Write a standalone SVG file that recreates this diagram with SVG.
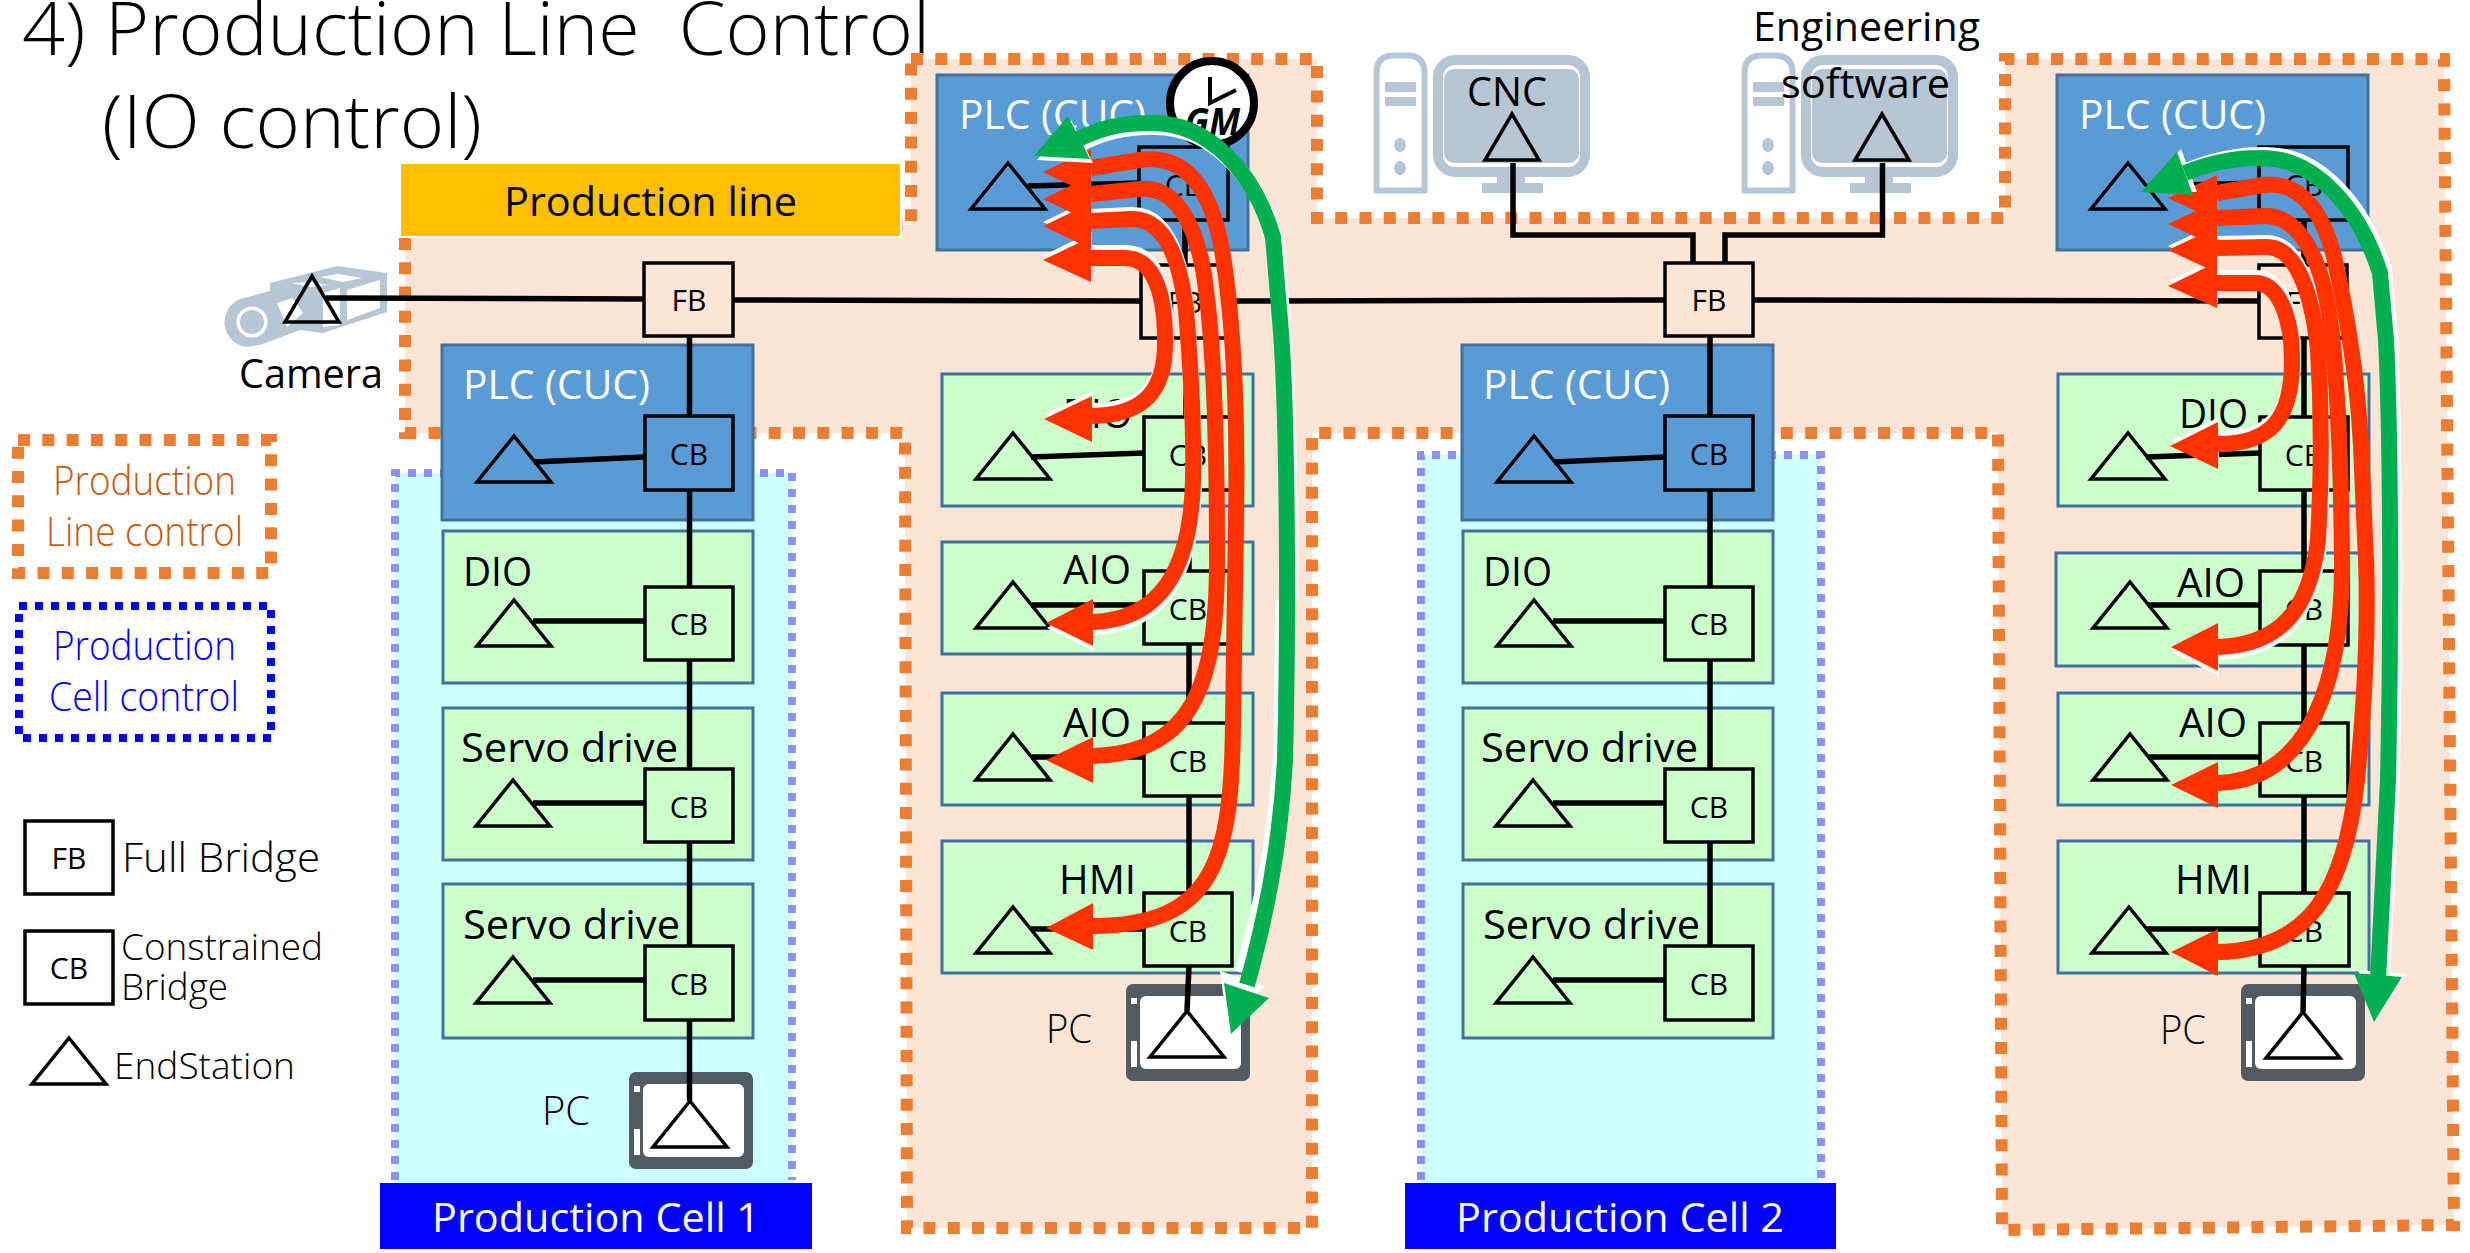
<svg xmlns="http://www.w3.org/2000/svg" width="2470" height="1253" viewBox="0 0 2470 1253">
<style>
text{font-family:"Open Sans","Noto Sans","Liberation Sans",sans-serif;fill:#000;font-size:41px}
.lt{font-weight:300}
.tt{font-weight:350;font-size:73px;white-space:pre}
.w{fill:#fff}
.br{font-size:30px}
.box{stroke:#000;stroke-width:3.5}
.fb{fill:#FBE5D6}.cbg{fill:#CCFFCC}.cbb{fill:none}.cbw{fill:#fff}
.plc{fill:#5B9BD5;stroke:#41719C;stroke-width:3}
.gr{fill:#CCFFCC;stroke:#41719C;stroke-width:3}
.tri{fill:none;stroke:#000;stroke-width:3.5;stroke-linejoin:miter}
.ln{fill:none;stroke:#000;stroke-width:5.5}
.ol{fill:#FBE5D6;stroke:#ED7D31;stroke-width:12;stroke-dasharray:12 12.3}
.ol2{fill:none;stroke:#ED7D31;stroke-width:12;stroke-dasharray:12 12.3}
.bl2{fill:none;stroke:#0000FF;stroke-width:8;stroke-dasharray:8 8}
.cell{fill:#CCFFFF;stroke:none}
.celld{fill:none;stroke:#8F8FFF;stroke-width:8;stroke-dasharray:8 8}
.ic{fill:#B7C6D5}
.rs{fill:none;stroke:#FF3300;stroke-width:16}
.rh{fill:#FF3300}
.gs{fill:none;stroke:#00B050;stroke-width:16}
.gh{fill:#00B050}
.ws{fill:none;stroke:#fff;stroke-width:16}
.wh{fill:#fff}
</style>
<defs>
<polygon id="tri" class="tri" points="0,0 37,46 -37,46"/>
<polygon id="trin" class="tri" points="0,0 27,46 -27,46"/>
<g id="pc">
<rect width="124" height="97" rx="7" fill="#535B62"/>
<rect x="14" y="12" width="101" height="73" rx="6" fill="#fff"/>
<rect x="5" y="14" width="6" height="6" fill="#fff"/>
<rect x="5" y="57" width="6" height="26" fill="#fff"/>
</g>
<g id="computer">
<path d="M2.5,137.5V20Q2.500,2.500 20,2.500H33Q50.500,2.500 50.500,20V137.500Z" fill="#fff" stroke="#B7C6D5" stroke-width="6"/>
<rect class="ic" x="11" y="29" width="31" height="10"/>
<rect class="ic" x="11" y="44" width="31" height="9"/>
<ellipse class="ic" cx="26" cy="92" rx="6" ry="7"/>
<ellipse class="ic" cx="26" cy="115" rx="6" ry="7"/>
<rect x="64" y="7" width="147" height="112" rx="17" fill="#fff" stroke="#B7C6D5" stroke-width="10"/>
<rect class="ic" x="70" y="16" width="135" height="94" rx="10"/>
<rect class="ic" x="123" y="124" width="28" height="7"/>
<rect class="ic" x="108" y="130" width="61" height="10"/>
</g>
<path id="mA1" d="M1091,168L1140,160C1190,153 1212,195 1222,250C1232,310 1238,400 1236,520L1233,720C1232,860 1215,926 1092,926"/>
<polygon id="mH1" points="1043,172 1091,149 1091,195"/>
<polygon id="mT1" points="1046,928 1093,903 1093,950"/>
<path id="mA2" d="M1091,194L1140,189C1180,185 1200,235 1206,290C1214,350 1217,450 1217,560C1217,690 1190,753 1092,756"/>
<polygon id="mH2" points="1043,199 1091,176 1091,222"/>
<polygon id="mT2" points="1046,760 1093,737 1093,783"/>
<path id="mA3" d="M1091,221L1130,219C1165,217 1180,260 1186,310C1191,370 1194,430 1193,480C1191,570 1160,620 1092,622"/>
<polygon id="mH3" points="1043,226 1091,203 1091,249"/>
<polygon id="mT3" points="1046,623 1093,599 1093,646"/>
<path id="mA4" d="M1091,258L1125,258C1150,258 1165,285 1165,340C1166,395 1140,415 1092,416"/>
<polygon id="mH4" points="1043,260 1091,237 1091,282"/>
<polygon id="mT4" points="1044,419 1092,396 1092,442"/>
<path id="rA1" d="M2217,193L2263,185C2305,180 2327,220 2337,270C2350,330 2360,400 2362,470L2366,560C2368,620 2365,700 2357,780C2345,890 2310,950 2218,952"/>
<polygon id="rH1" points="2168,198 2217,175 2217,221"/>
<polygon id="rT1" points="2171,952 2218,929 2218,976"/>
<path id="rA2" d="M2217,218L2263,216C2300,214 2322,260 2330,320C2336,360 2341,450 2342,560C2343,680 2310,780 2218,783"/>
<polygon id="rH2" points="2168,224 2217,201 2217,247"/>
<polygon id="rT2" points="2171,785 2218,762 2218,808"/>
<path id="rA3" d="M2217,248L2267,247C2295,247 2312,290 2318,350C2321,400 2322,470 2318,540C2310,610 2280,645 2218,647"/>
<polygon id="rH3" points="2168,250 2217,227 2217,273"/>
<polygon id="rT3" points="2171,647 2218,623 2218,671"/>
<path id="rA4" d="M2217,283L2255,283C2280,283 2292,320 2292,360C2292,420 2270,444 2218,444"/>
<polygon id="rH4" points="2168,286 2217,262 2217,308"/>
<polygon id="rT4" points="2170,446 2218,422 2218,469"/>
<path id="mG" d="M1079,139C1100,128 1125,123 1147,123C1210,120 1255,175 1273,237L1280,320C1287,400 1289,600 1285,760C1280,850 1265,920 1247,985"/>
<polygon id="mGa" points="1034,156 1068,116 1090,159"/>
<polygon id="mGb" points="1231,1034 1224,983 1269,998"/>
<path id="rG" d="M2185,173C2205,165 2230,158 2257,158C2315,155 2360,210 2380,273L2386,340C2390,420 2392,600 2388,780L2378,980"/>
<polygon id="rGa" points="2141,192 2177,152 2193,195"/>
<polygon id="rGb" points="2374,1022 2354,973 2402,977"/>
<clipPath id="top"><rect x="0" y="0" width="2470" height="450"/></clipPath>
<clipPath id="bot"><rect x="0" y="450" width="2470" height="803"/></clipPath>
<clipPath id="gtop"><rect x="0" y="0" width="2470" height="600"/></clipPath>
<clipPath id="gbot"><rect x="0" y="600" width="2470" height="653"/></clipPath>
</defs>

<rect width="2470" height="1253" fill="#fff"/>

<g id="title">
<text class="tt" x="22" y="55" textLength="908" lengthAdjust="spacingAndGlyphs">4) Production Line  Control</text>
<text class="tt" x="102" y="148" textLength="380" lengthAdjust="spacingAndGlyphs">(IO control)</text>
</g>

<g id="line-control-region">
<path class="ol" d="M911,59H1317V218H2005V59H2444L2454,1225L2002,1230L1998,433H1312V1228H907L905,433H405V225H911Z"/>
</g>
<g id="production-line-label">
<rect x="400" y="163" width="501" height="74" fill="#FFC000" stroke="#fff" stroke-width="2"/>
<text x="504" y="216" textLength="293" lengthAdjust="spacingAndGlyphs">Production line</text>
</g>

<g id="cell-region-1">
<rect class="cell" x="395" y="473" width="397" height="710"/>
<path class="celld" d="M395,1180V473H792V1180"/>
</g>
<g id="cell-region-2">
<rect class="cell" x="1421" y="455" width="400" height="728"/>
<path class="celld" d="M1421,1180V455H1821V1180"/>
</g>

<g id="cell-label-1">
<rect x="380" y="1183" width="432" height="66" fill="#0000FF"/>
<text class="w" x="432" y="1232" textLength="328" lengthAdjust="spacingAndGlyphs">Production Cell 1</text>
</g>
<g id="cell-label-2">
<rect x="1405" y="1183" width="431" height="66" fill="#0000FF"/>
<text class="w" x="1456" y="1232" textLength="328" lengthAdjust="spacingAndGlyphs">Production Cell 2</text>
</g>

<g id="legend">
<g id="legend-line-control">
<rect class="ol2" x="18" y="440" width="253" height="133"/>
<text class="lt" x="53" y="495" style="fill:#C55A11" textLength="183" lengthAdjust="spacingAndGlyphs">Production</text>
<text class="lt" x="46" y="546" style="fill:#C55A11" textLength="197" lengthAdjust="spacingAndGlyphs">Line control</text>
</g>
<g id="legend-cell-control">
<rect class="bl2" x="19" y="606" width="252" height="132"/>
<text class="lt" x="53" y="660" style="fill:#0000FF" textLength="183" lengthAdjust="spacingAndGlyphs">Production</text>
<text class="lt" x="49" y="711" style="fill:#0000FF" textLength="190" lengthAdjust="spacingAndGlyphs">Cell control</text>
</g>
<g id="legend-fb">
<rect class="box" x="25" y="821" width="88" height="73" fill="#fff"/>
<text class="br" x="69" y="869" text-anchor="middle">FB</text>
<text class="lt" x="122" y="872" textLength="198" lengthAdjust="spacingAndGlyphs">Full Bridge</text>
</g>
<g id="legend-cb">
<rect class="box" x="25" y="931" width="88" height="73" fill="#fff"/>
<text class="br" x="69" y="979" text-anchor="middle">CB</text>
<text class="lt" x="121" y="960" style="font-size:37px" textLength="202" lengthAdjust="spacingAndGlyphs">Constrained</text>
<text class="lt" x="121" y="1000" style="font-size:37px" textLength="107" lengthAdjust="spacingAndGlyphs">Bridge</text>
</g>
<g id="legend-es">
<use href="#tri" x="69" y="1038"/>
<text class="lt" x="114" y="1079" style="font-size:37px" textLength="181" lengthAdjust="spacingAndGlyphs">EndStation</text>
</g>
</g>

<g id="camera">
<path class="ic" d="M270,283L337,266L387,273V312L323,333L300,330L260,345L247,347A25,25 0 0 1 240,299L270,291Z"/>
<path class="wh" d="M320,277L338,274L362,278L343,282ZM292,283L308,282L328,285L310,287ZM347,290L380,280V308L347,320ZM277,303L293,298L303,313L287,327ZM323,293L340,288V325L323,327Z"/>
<circle cx="252" cy="322" r="15.500" fill="#fff"/>
<circle class="ic" cx="252" cy="322" r="12"/>
<use href="#trin" x="312" y="276"/>
<text x="239" y="388" textLength="144" lengthAdjust="spacingAndGlyphs">Camera</text>
</g>

<g id="cnc">
<use href="#computer" x="1374" y="53"/>
<use href="#trin" x="1512" y="114"/>
<text x="1467" y="106" textLength="80" lengthAdjust="spacingAndGlyphs">CNC</text>
</g>
<g id="engineering-software">
<use href="#computer" x="1742" y="53"/>
<use href="#trin" x="1882" y="114"/>
<text x="1753" y="41" textLength="227" lengthAdjust="spacingAndGlyphs">Engineering</text>
<text x="1781" y="98" textLength="169" lengthAdjust="spacingAndGlyphs">software</text>
</g>

<g id="fb-1"><rect class="box fb" x="644" y="263" width="89" height="73"/><text class="br" x="689" y="311" text-anchor="middle">FB</text></g>
<g id="fb-3"><rect class="box fb" x="1665" y="263" width="88" height="73"/><text class="br" x="1709" y="311" text-anchor="middle">FB</text></g>

<g id="c1-plc"><rect class="plc" x="442" y="345" width="311" height="175"/><text class="w" x="463" y="399" textLength="187" lengthAdjust="spacingAndGlyphs">PLC (CUC)</text><rect class="box cbb" x="645" y="416" width="88" height="74"/><text class="br" x="689" y="465" text-anchor="middle">CB</text><use href="#tri" x="514" y="436"/></g>
<g id="c1-dio"><rect class="gr" x="443" y="531" width="310" height="152"/><text x="463" y="586" textLength="69" lengthAdjust="spacingAndGlyphs">DIO</text><rect class="box cbg" x="645" y="587" width="88" height="73"/><text class="br" x="689" y="635" text-anchor="middle">CB</text><use href="#tri" x="514" y="600"/></g>
<g id="c1-servo1"><rect class="gr" x="443" y="708" width="310" height="152"/><text x="461" y="762" textLength="217" lengthAdjust="spacingAndGlyphs">Servo drive</text><rect class="box cbg" x="645" y="769" width="88" height="73"/><text class="br" x="689" y="818" text-anchor="middle">CB</text><use href="#tri" x="513" y="780"/></g>
<g id="c1-servo2"><rect class="gr" x="443" y="884" width="310" height="154"/><text x="463" y="939" textLength="217" lengthAdjust="spacingAndGlyphs">Servo drive</text><rect class="box cbg" x="645" y="946" width="88" height="74"/><text class="br" x="689" y="995" text-anchor="middle">CB</text><use href="#tri" x="513" y="957"/></g>
<g id="c1-pc"><use href="#pc" x="629" y="1072"/><use href="#tri" x="690" y="1101"/><text class="lt" x="542" y="1125" textLength="48" lengthAdjust="spacingAndGlyphs">PC</text></g>

<g id="c2-plc"><rect class="plc" x="1462" y="345" width="311" height="175"/><text class="w" x="1483" y="399" textLength="187" lengthAdjust="spacingAndGlyphs">PLC (CUC)</text><rect class="box cbb" x="1665" y="416" width="88" height="74"/><text class="br" x="1709" y="465" text-anchor="middle">CB</text><use href="#tri" x="1534" y="436"/></g>
<g id="c2-dio"><rect class="gr" x="1463" y="531" width="310" height="152"/><text x="1483" y="586" textLength="69" lengthAdjust="spacingAndGlyphs">DIO</text><rect class="box cbg" x="1665" y="587" width="88" height="73"/><text class="br" x="1709" y="635" text-anchor="middle">CB</text><use href="#tri" x="1534" y="600"/></g>
<g id="c2-servo1"><rect class="gr" x="1463" y="708" width="310" height="152"/><text x="1481" y="762" textLength="217" lengthAdjust="spacingAndGlyphs">Servo drive</text><rect class="box cbg" x="1665" y="769" width="88" height="73"/><text class="br" x="1709" y="818" text-anchor="middle">CB</text><use href="#tri" x="1533" y="780"/></g>
<g id="c2-servo2"><rect class="gr" x="1463" y="884" width="310" height="154"/><text x="1483" y="939" textLength="217" lengthAdjust="spacingAndGlyphs">Servo drive</text><rect class="box cbg" x="1665" y="946" width="88" height="74"/><text class="br" x="1709" y="995" text-anchor="middle">CB</text><use href="#tri" x="1533" y="957"/></g>

<g id="m-plc"><rect class="plc" x="937" y="75" width="311" height="175"/><text class="w" x="959" y="129" textLength="187" lengthAdjust="spacingAndGlyphs">PLC (CUC)</text><rect class="box cbb" x="1139" y="147" width="89" height="73"/><text class="br" x="1184" y="196" text-anchor="middle">CB</text><use href="#tri" x="1008" y="163"/></g>
<g id="m-gm"><circle cx="1212" cy="103" r="42" fill="#fff" stroke="#000" stroke-width="8"/><path d="M1210,77V103L1236,90" fill="none" stroke="#000" stroke-width="4"/><text x="1185" y="135" style="font-size:38px;font-weight:700;font-style:italic" textLength="55" lengthAdjust="spacingAndGlyphs">GM</text></g>
<g id="m-fb"><rect class="box fb" x="1141" y="265" width="88" height="73"/><text class="br" x="1185" y="313" text-anchor="middle">FB</text></g>
<g id="m-dio"><rect class="gr" x="942" y="374" width="311" height="132"/><text x="1063" y="428" textLength="69" lengthAdjust="spacingAndGlyphs">DIO</text><rect class="box cbg" x="1144" y="417" width="87" height="73"/><text class="br" x="1188" y="466" text-anchor="middle">CB</text><use href="#tri" x="1013" y="433"/></g>
<g id="m-aio1"><rect class="gr" x="942" y="542" width="311" height="112"/><text x="1063" y="584" textLength="68" lengthAdjust="spacingAndGlyphs">AIO</text><rect class="box cbg" x="1144" y="571" width="88" height="73"/><text class="br" x="1188" y="620" text-anchor="middle">CB</text><use href="#tri" x="1013" y="582"/></g>
<g id="m-aio2"><rect class="gr" x="942" y="693" width="311" height="112"/><text x="1063" y="737" textLength="68" lengthAdjust="spacingAndGlyphs">AIO</text><rect class="box cbg" x="1144" y="723" width="88" height="73"/><text class="br" x="1188" y="772" text-anchor="middle">CB</text><use href="#tri" x="1013" y="734"/></g>
<g id="m-hmi"><rect class="gr" x="942" y="841" width="311" height="132"/><text x="1059" y="894" textLength="77" lengthAdjust="spacingAndGlyphs">HMI</text><rect class="box cbg" x="1144" y="893" width="88" height="73"/><text class="br" x="1188" y="942" text-anchor="middle">CB</text><use href="#tri" x="1013" y="907"/></g>
<g id="m-pc"><use href="#pc" x="1126" y="984"/><use href="#tri" x="1187" y="1011"/><text class="lt" x="1046" y="1043" textLength="46" lengthAdjust="spacingAndGlyphs">PC</text></g>

<g id="r-plc"><rect class="plc" x="2057" y="75" width="311" height="175"/><text class="w" x="2079" y="129" textLength="187" lengthAdjust="spacingAndGlyphs">PLC (CUC)</text><rect class="box cbb" x="2259" y="147" width="89" height="73"/><text class="br" x="2304" y="196" text-anchor="middle">CB</text><use href="#tri" x="2128" y="163"/></g>
<g id="r-fb"><rect class="box fb" x="2259" y="265" width="88" height="73"/><text class="br" x="2303" y="313" text-anchor="middle">FB</text></g>
<g id="r-dio"><rect class="gr" x="2058" y="374" width="311" height="132"/><text x="2179" y="428" textLength="69" lengthAdjust="spacingAndGlyphs">DIO</text><rect class="box cbg" x="2260" y="417" width="88" height="73"/><text class="br" x="2304" y="466" text-anchor="middle">CB</text><use href="#tri" x="2128" y="433"/></g>
<g id="r-aio1"><rect class="gr" x="2056" y="553" width="311" height="113"/><text x="2177" y="597" textLength="68" lengthAdjust="spacingAndGlyphs">AIO</text><rect class="box cbg" x="2260" y="571" width="88" height="74"/><text class="br" x="2304" y="620" text-anchor="middle">CB</text><use href="#tri" x="2130" y="582"/></g>
<g id="r-aio2"><rect class="gr" x="2058" y="693" width="311" height="112"/><text x="2179" y="737" textLength="68" lengthAdjust="spacingAndGlyphs">AIO</text><rect class="box cbg" x="2260" y="723" width="88" height="73"/><text class="br" x="2304" y="772" text-anchor="middle">CB</text><use href="#tri" x="2130" y="734"/></g>
<g id="r-hmi"><rect class="gr" x="2058" y="841" width="311" height="132"/><text x="2175" y="894" textLength="77" lengthAdjust="spacingAndGlyphs">HMI</text><rect class="box cbg" x="2260" y="893" width="89" height="73"/><text class="br" x="2304" y="942" text-anchor="middle">CB</text><use href="#tri" x="2129" y="907"/></g>
<g id="r-pc"><use href="#pc" x="2241" y="984"/><use href="#tri" x="2303" y="1012"/><text class="lt" x="2160" y="1044" textLength="46" lengthAdjust="spacingAndGlyphs">PC</text></g>

<g id="connectors" class="ln">
<path d="M326,298L644,299"/><path d="M733,300L1141,301"/><path d="M1229,301L1665,300"/><path d="M1753,300L2259,301"/>
<path d="M1693,263V235H1513V163"/><path d="M1725,263V235H1882.500V163"/>
<path d="M689.500,336V416M689.500,490V587M689.500,660V769M689.500,842V946M689.500,1020V1101"/>
<path d="M534,462L645,457M533,621H645M533,803H645M533,980H645"/>
<path d="M1710,336V416M1710,490V587M1710,660V769M1710,842V946"/>
<path d="M1554,462L1665,457M1553,621H1665M1553,803H1665M1553,980H1665"/>
<path d="M1185,220V265M1186,338V417M1189,490V571M1189,644V723M1189,796V893M1189,966L1187,1011"/>
<path d="M1028,186L1139,183M1031,457L1144,453M1031,605H1144M1031,757H1144M1031,929H1144"/>
<path d="M2304,220V265M2304,338V417M2304,490V571M2304,645V723M2304,796V893M2304,966L2303,1012"/>
<path d="M2148,186L2259,183M2146,457L2260,453M2148,605H2260M2148,757H2260M2147,929H2260"/>
</g>

<g id="arrows">
<g transform="translate(1,-5)"><use href="#mA4" class="ws"/><use href="#mH4" class="wh"/><use href="#mT4" class="wh"/></g>
<g clip-path="url(#top)"><g transform="translate(0,-4)"><use href="#mA3" class="ws"/><use href="#mH3" class="wh"/></g></g>
<g clip-path="url(#bot)"><g transform="translate(1,5)"><use href="#mA3" class="ws"/><use href="#mT3" class="wh"/></g></g>
<use href="#mA1" class="rs"/><use href="#mH1" class="rh"/><use href="#mT1" class="rh"/>
<use href="#mA2" class="rs"/><use href="#mH2" class="rh"/><use href="#mT2" class="rh"/>
<use href="#mA3" class="rs"/><use href="#mH3" class="rh"/><use href="#mT3" class="rh"/>
<use href="#mA4" class="rs"/><use href="#mH4" class="rh"/><use href="#mT4" class="rh"/>
<g clip-path="url(#gtop)"><g transform="translate(3,4)"><use href="#mG" class="ws"/><use href="#mGa" class="wh"/></g></g>
<g clip-path="url(#gbot)"><g transform="translate(-4,-12)"><use href="#mG" class="ws"/><use href="#mGb" class="wh"/></g></g>
<use href="#mG" class="gs"/><use href="#mGa" class="gh"/><use href="#mGb" class="gh"/>

<g transform="translate(1,-5)"><use href="#rA4" class="ws"/><use href="#rH4" class="wh"/><use href="#rT4" class="wh"/></g>
<g clip-path="url(#top)"><g transform="translate(0,-4)"><use href="#rA3" class="ws"/><use href="#rH3" class="wh"/></g></g>
<g clip-path="url(#bot)"><g transform="translate(1,5)"><use href="#rA3" class="ws"/><use href="#rT3" class="wh"/></g></g>
<use href="#rA1" class="rs"/><use href="#rH1" class="rh"/><use href="#rT1" class="rh"/>
<use href="#rA2" class="rs"/><use href="#rH2" class="rh"/><use href="#rT2" class="rh"/>
<use href="#rA3" class="rs"/><use href="#rH3" class="rh"/><use href="#rT3" class="rh"/>
<use href="#rA4" class="rs"/><use href="#rH4" class="rh"/><use href="#rT4" class="rh"/>
<g transform="translate(4,-3)"><use href="#rG" class="ws"/><use href="#rGa" class="wh"/><use href="#rGb" class="wh"/></g>
<use href="#rG" class="gs"/><use href="#rGa" class="gh"/><use href="#rGb" class="gh"/>
</g>
</svg>
